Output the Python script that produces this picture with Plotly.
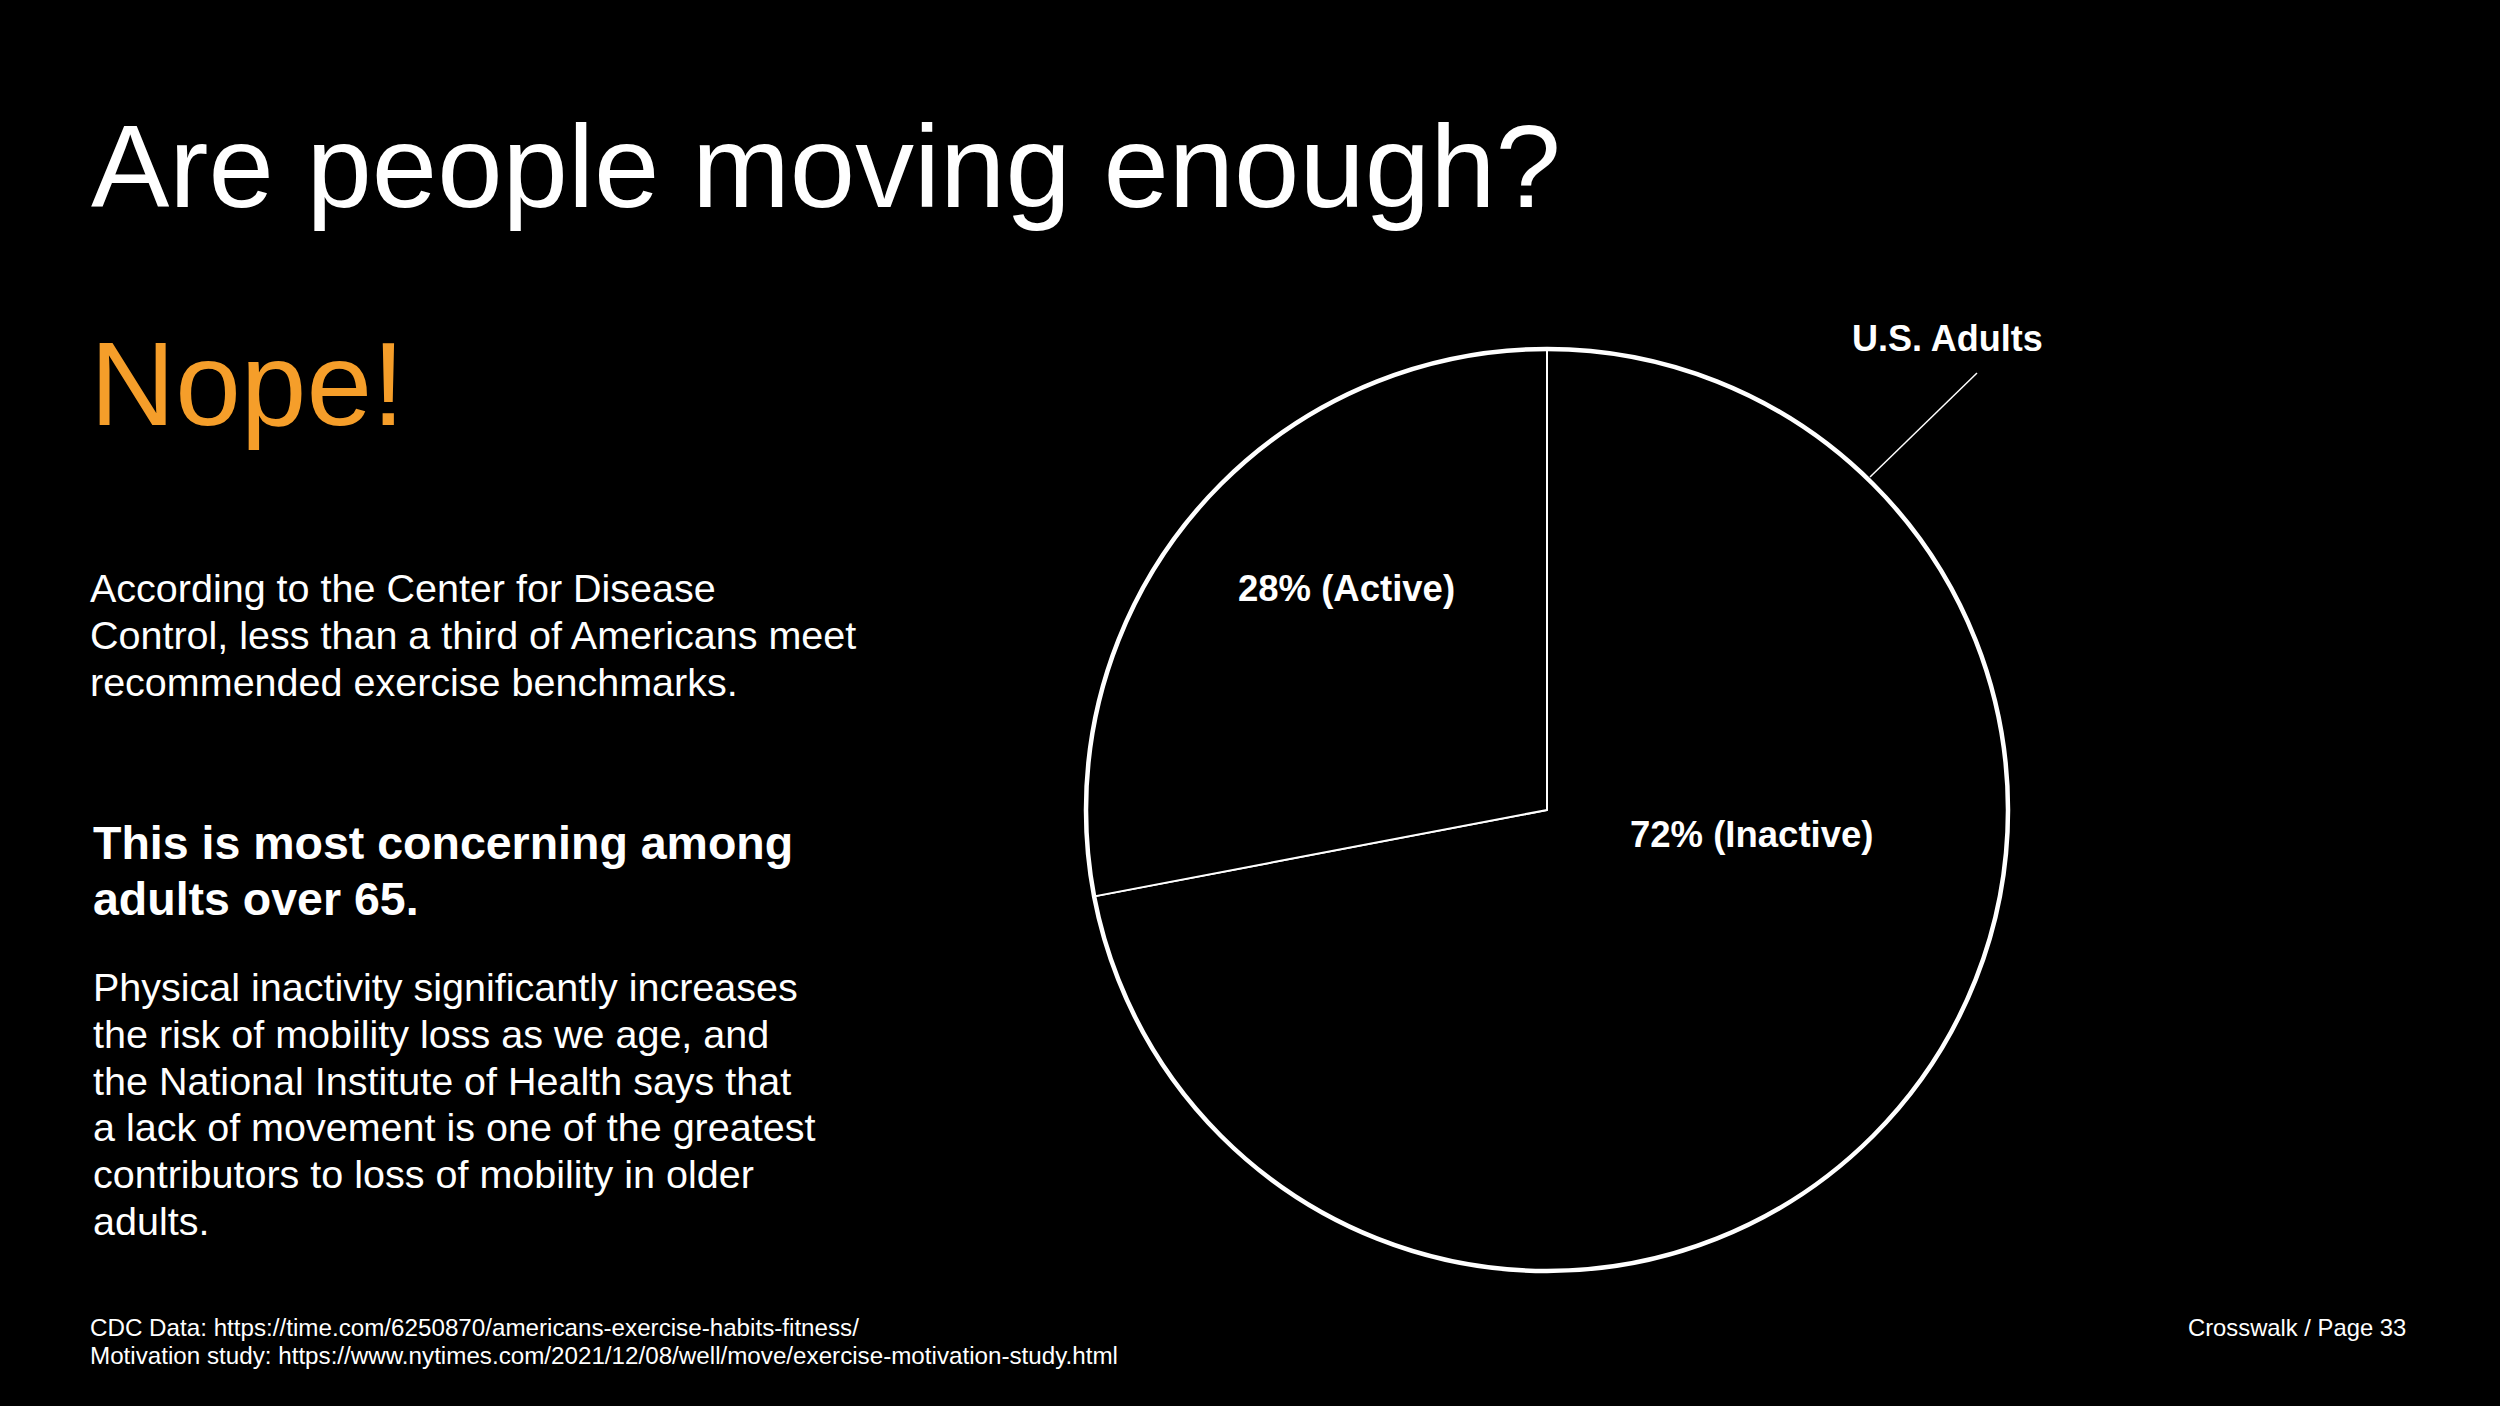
import plotly.graph_objects as go

W, H = 2500, 1406

# ---- data ----
categories = ["Active", "Inactive"]
shares = [28, 72]
pie_title = "U.S. Adults"

title_text = "Are people moving enough?"
answer_text = "Nope!"
para1_lines = ["According to the Center for Disease",
               "Control, less than a third of Americans meet",
               "recommended exercise benchmarks."]
bold_lines = ["This is most concerning among", "adults over 65."]
para2_lines = ["Physical inactivity significantly increases",
               "the risk of mobility loss as we age, and",
               "the National Institute of Health says that",
               "a lack of movement is one of the greatest",
               "contributors to loss of mobility in older",
               "adults."]
source_lines = ["CDC Data: https://time.com/6250870/americans-exercise-habits-fitness/",
                "Motivation study: https://www.nytimes.com/2021/12/08/well/move/exercise-motivation-study.html"]
page_text = "Crosswalk / Page 33"

FONT = "Liberation Sans"
ORANGE = "#F59E2A"


def px(x):
    return x / W


def py(y):
    return 1 - y / H


# pie geometry (pixels)
cx, cy, r = 1547, 810, 461
dom_x = [px(cx - r), px(cx + r)]
dom_y = [py(cy + r), py(cy - r)]

# counterclockwise layout puts the first listed slice just right of 12 o'clock,
# so list Inactive first to have Active sit left of 12 o'clock
pie_labels = categories[::-1]
pie_values = shares[::-1]

fig = go.Figure()
fig.add_trace(go.Pie(
    labels=pie_labels, values=pie_values, sort=False, direction="counterclockwise",
    domain=dict(x=dom_x, y=dom_y),
    marker=dict(colors=["#000000", "#000000"], line=dict(color="white", width=2)),
    textinfo="none", hoverinfo="label+percent", showlegend=False,
))
# thicker outer rim
fig.add_trace(go.Pie(
    labels=[pie_title], values=[sum(shares)], domain=dict(x=dom_x, y=dom_y),
    marker=dict(colors=["rgba(0,0,0,0)"], line=dict(color="white", width=4.5)),
    textinfo="none", hoverinfo="skip", showlegend=False,
))

ann = []


def add_text(text, x, y, size, color="white", bold=False, xanchor="left", yanchor="middle"):
    t = f"<b>{text}</b>" if bold else text
    ann.append(dict(text=t, x=px(x), y=py(y), xref="paper", yref="paper",
                    xanchor=xanchor, yanchor=yanchor, showarrow=False,
                    font=dict(family=FONT, size=size, color=color)))


def add_lines(lines, x, y0, step, size, **kw):
    for i, line in enumerate(lines):
        add_text(line, x, y0 + step * i, size, **kw)


add_text(title_text, 89, 167, 117.5)
add_text(answer_text, 88, 384, 118, color=ORANGE)
add_lines(para1_lines, 88, 588, 47, 39.5)
add_lines(bold_lines, 91, 843, 56, 46.5, bold=True)
add_lines(para2_lines, 91, 987, 46.8, 39.5)
add_lines(source_lines, 88, 1327, 28.5, 24.2)
add_text(page_text, 2408, 1327, 23.8, xanchor="right")
add_text(pie_title, 1947, 338, 36, bold=True, xanchor="center")

label_pos = {"Active": (1347, 588), "Inactive": (1751, 835)}
for c, v in zip(categories, shares):
    lx, ly = label_pos[c]
    add_text(f"{v}% ({c})", lx, ly, 36.5, bold=True, xanchor="center")

fig.update_layout(
    width=W, height=H, margin=dict(l=0, r=0, t=0, b=0),
    paper_bgcolor="black", plot_bgcolor="black",
    annotations=ann,
    shapes=[dict(type="line", xref="paper", yref="paper",
                 x0=px(1977), y0=py(373), x1=px(1870), y1=py(477),
                 line=dict(color="white", width=1.5))],
)

fig.write_html(
    "out.html",
    config={"displayModeBar": False},
    post_script="document.body.style.margin='0';document.body.style.padding='0';"
                "document.body.style.background='black';"
                "document.documentElement.style.background='black';",
)
